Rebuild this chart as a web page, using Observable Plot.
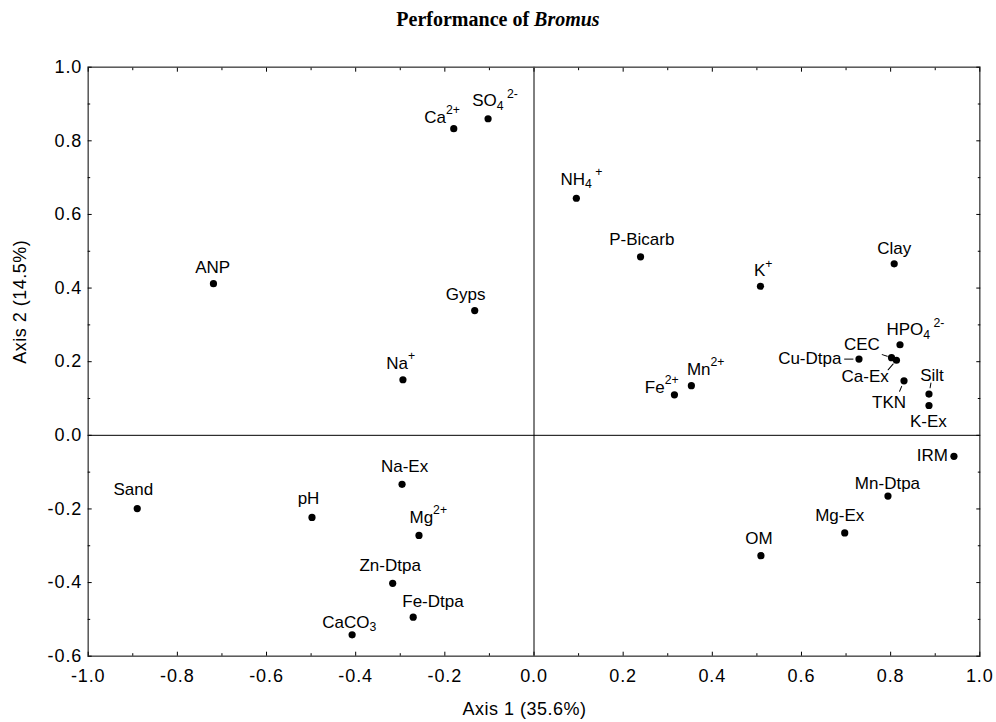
<!DOCTYPE html>
<html><head><meta charset="utf-8">
<script src="https://cdn.jsdelivr.net/npm/d3@7"></script>
<script src="https://cdn.jsdelivr.net/npm/@observablehq/plot@0.6"></script>
<style>
html,body{margin:0;padding:0;background:#fff;}
#title{box-sizing:border-box;height:36px;padding-top:9px;line-height:20px;text-align:center;font-family:"Liberation Serif","Times New Roman",serif;font-weight:bold;font-size:20px;color:#000;}
#chart svg{display:block;}
g[aria-label="x-axis tick label"] text, g[aria-label="y-axis tick label"] text{letter-spacing:0.9px;}
</style></head><body>
<div id="title">Performance of <i>Bromus</i></div>
<div id="chart"></div>
<script>
// ---- data ----
const variables = ["Ca2+","SO4 2-","NH4+","P-Bicarb","K+","Clay","HPO4 2-","CEC","Cu-Dtpa","Ca-Ex","TKN","Silt","K-Ex","Mn2+","Fe2+","IRM","Mn-Dtpa","Mg-Ex","OM","Sand","pH","Na-Ex","Mg2+","Zn-Dtpa","Fe-Dtpa","CaCO3","ANP","Gyps","Na+"];
const varLabels = ["Ca^{2+}","SO_{4}^{ 2-}","NH_{4}^{ +}","P-Bicarb","K^{+}","Clay","HPO_{4}^{ 2-}","CEC","Cu-Dtpa","Ca-Ex","TKN","Silt","K-Ex","Mn^{2+}","Fe^{2+}","IRM","Mn-Dtpa","Mg-Ex","OM","Sand","pH","Na-Ex","Mg^{2+}","Zn-Dtpa","Fe-Dtpa","CaCO_{3}","ANP","Gyps","Na^{+}"];
const axis1 = [-0.180,-0.103,0.095,0.239,0.508,0.808,0.821,0.802,0.729,0.813,0.830,0.886,0.886,0.353,0.315,0.942,0.794,0.697,0.509,-0.890,-0.498,-0.296,-0.258,-0.317,-0.271,-0.408,-0.719,-0.133,-0.294];
const axis2 = [0.833,0.860,0.644,0.485,0.405,0.466,0.246,0.211,0.207,0.204,0.148,0.112,0.081,0.135,0.110,-0.057,-0.165,-0.265,-0.327,-0.199,-0.223,-0.133,-0.272,-0.402,-0.494,-0.542,0.412,0.339,0.151];
const xMajorTicks = [-1.0,-0.8,-0.6,-0.4,-0.2,0.0,0.2,0.4,0.6,0.8,1.0];
const xMinorTicks = [-0.9,-0.7,-0.5,-0.3,-0.1,0.1,0.3,0.5,0.7,0.9];
const yMajorTicks = [-0.6,-0.4,-0.2,0.0,0.2,0.4,0.6,0.8,1.0];
const yMinorTicks = [-0.5,-0.3,-0.1,0.1,0.3,0.5,0.7,0.9];
const xTitle = "Axis 1 (35.6%)";
const yTitle = "Axis 2 (14.5%)";

// ---- layout (label offsets in px: [dx to text centre, dy to baseline]) ----
const labelOffset = {
  "Ca2+":[-11.6,-6],"SO4 2-":[7,-12.3],"NH4+":[5,-13.4],"P-Bicarb":[1.3,-12],"K+":[2.8,-10],
  "Clay":[0,-9.3],"HPO4 2-":[15.4,-9.3],"CEC":[-29.7,-8],"Cu-Dtpa":[-49.2,4.6],"Ca-Ex":[-31.3,22],
  "TKN":[-15,27.4],"Silt":[3,-13.4],"K-Ex":[-0.6,21.7],"Mn2+":[14.3,-11],"Fe2+":[-12.7,-2],
  "IRM":[-21.6,5],"Mn-Dtpa":[-0.5,-7.4],"Mg-Ex":[-5,-11.6],"OM":[-2,-11.7],"Sand":[-3.9,-14],
  "pH":[-3.5,-13.7],"Na-Ex":[2.5,-12],"Mg2+":[9.3,-12.7],"Zn-Dtpa":[-2.5,-12],"Fe-Dtpa":[19.8,-10],
  "CaCO3":[-2.9,-7],"ANP":[-0.8,-10.7],"Gyps":[-9.1,-11],"Na+":[-2.3,-11]
};
const leaderLines = [
  {name:"Cu-Dtpa", rotate:-90, gap:6, end:14.4},
  {name:"CEC", rotate:-72, gap:4.5, end:9.8},
  {name:"Ca-Ex", rotate:-139, gap:4.9, end:12.7},
  {name:"TKN", rotate:-157, gap:6, end:11.3},
  {name:"Silt", rotate:10, gap:6.4, end:11.2}
];

const points = variables.map((v, i) => ({name: v, label: varLabels[i], x: axis1[i], y: axis2[i]}));
const fmt = d => d.toFixed(1);
const LABEL_FS = 17;

const tickAxes = [];
for (const anchor of ["bottom","top"]) {
  tickAxes.push(Plot.axisX(xMajorTicks, {anchor, tickSize:-4, tickFormat:()=>"", label:null, stroke:"#000"}));
  tickAxes.push(Plot.axisX(xMinorTicks, {anchor, tickSize:-2.5, tickFormat:()=>"", label:null, stroke:"#000"}));
}
for (const anchor of ["left","right"]) {
  tickAxes.push(Plot.axisY(yMajorTicks, {anchor, tickSize:-4, tickFormat:()=>"", label:null, stroke:"#000"}));
  tickAxes.push(Plot.axisY(yMinorTicks, {anchor, tickSize:-2.5, tickFormat:()=>"", label:null, stroke:"#000"}));
}

const leaderMarks = leaderLines.map(l => {
  const p = points.find(q => q.name === l.name);
  return Plot.vector([p], {x:"x", y:"y", rotate:l.rotate, length:l.end, anchor:"start",
    stroke:"#000", strokeWidth:1,
    shape:{draw(ctx, len){ ctx.moveTo(0, -l.gap); ctx.lineTo(0, -len); }}});
});

const labelMarks = points.map(p => Plot.text([p], {
  x:"x", y:"y", text:"label", dx:labelOffset[p.name][0], dy:labelOffset[p.name][1],
  textAnchor:"middle", lineAnchor:"bottom", fontSize:LABEL_FS, fill:"#000"
}));

const svg = Plot.plot({
  width: 996, height: 686,
  marginLeft: 87.7, marginRight: 16.7, marginTop: 30.7, marginBottom: 66.3,
  x: {domain: [-1, 1]},
  y: {domain: [-0.6, 1]},
  style: {fontFamily: "'Liberation Sans', Arial, sans-serif", color: "#000", background: "#fff", overflow: "visible"},
  marks: [
    Plot.ruleX([0], {stroke:"#000", strokeWidth:1}),
    Plot.ruleY([0], {stroke:"#000", strokeWidth:1}),
    Plot.frame({stroke:"#555", strokeWidth:1.5}),
    Plot.axisX(xMajorTicks, {anchor:"bottom", tickSize:0, tickPadding:12.6, tickFormat:fmt, fontSize:18, label:null}),
    Plot.axisY(yMajorTicks, {anchor:"left", tickSize:0, tickPadding:6, tickFormat:fmt, fontSize:18, label:null}),
    ...tickAxes,
    ...leaderMarks,
    Plot.dot(points, {x:"x", y:"y", r:3.6, fill:"#000", stroke:"none"}),
    ...labelMarks,
    Plot.text([xTitle], {text:d=>d, frameAnchor:"bottom", dx:-9.5, dy:53, lineAnchor:"middle", fontSize:18, fill:"#000"}),
    Plot.text([yTitle], {text:d=>d, frameAnchor:"left", dx:-68, dy:2, rotate:-90, lineAnchor:"middle", fontSize:18, fill:"#000"})
  ]
});
document.getElementById("chart").appendChild(svg);

const NS = "http://www.w3.org/2000/svg";
svg.querySelectorAll("text").forEach(el => {
  const s = el.textContent;
  if (s === xTitle || s === yTitle) { el.style.letterSpacing = "0.5px"; return; }
  if (!/[\^_]\{/.test(s)) return;
  // render ^{sup} and _{sub} markup as tspans
  const re = /([\^_])\{([^}]*)\}/g;
  const segs = []; let last = 0, m;
  while ((m = re.exec(s))) {
    if (m.index > last) segs.push({t: s.slice(last, m.index), k: 0});
    segs.push({t: m[2], k: m[1] === "^" ? 1 : -1});
    last = re.lastIndex;
  }
  if (last < s.length) segs.push({t: s.slice(last), k: 0});
  while (el.firstChild) el.removeChild(el.firstChild);
  el.setAttribute("xml:space", "preserve");
  el.style.whiteSpace = "pre";
  let cur = 0;
  for (const g of segs) {
    const shift = g.k === 1 ? -0.5 * LABEL_FS : g.k === -1 ? 0.18 * LABEL_FS : 0;
    const ts = document.createElementNS(NS, "tspan");
    if (g.k) ts.setAttribute("font-size", 0.72 * LABEL_FS);
    const d = shift - cur;
    if (d) ts.setAttribute("dy", d);
    cur = shift;
    ts.textContent = g.t;
    el.appendChild(ts);
  }
});
</script>
</body></html>
